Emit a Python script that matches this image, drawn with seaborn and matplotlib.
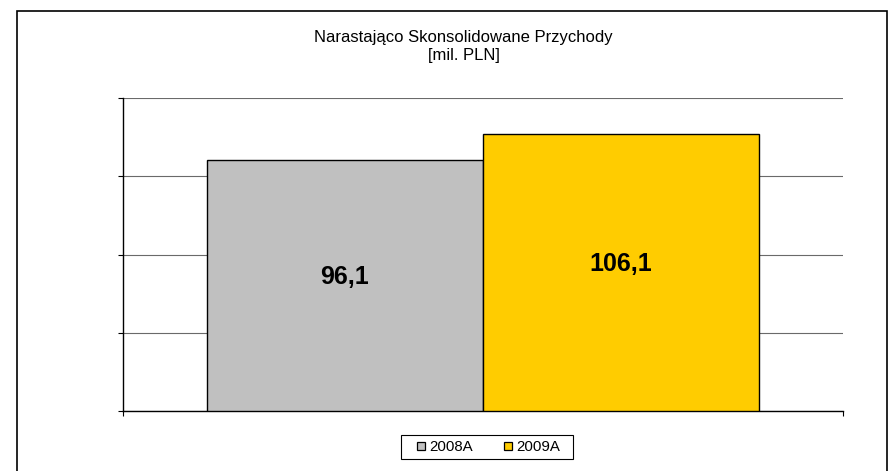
import pandas as pd
import seaborn as sns
import matplotlib.pyplot as plt
from matplotlib.lines import Line2D
from matplotlib.patches import Rectangle

# dane z wykresu
kategoria = 'Przychody'
lata = ['2008A', '2009A']
przychody = [96.1, 106.1]
kolory = ['#C0C0C0', '#FFCC00']
tytul = ['Narastająco Skonsolidowane Przychody', '[mil. PLN]']
y_ticki = [0, 30, 60, 90, 120]

sns.set_style('white')
plt.rcParams['font.family'] = ['Liberation Sans', 'DejaVu Sans']
plt.rcParams['text.color'] = 'black'

W, H = 889, 471
fig = plt.figure(figsize=(W / 100, H / 100), dpi=100)
ax = fig.add_axes([123 / W, 60 / H, 720 / W, 313 / H])

df = pd.DataFrame({'kategoria': [kategoria] * len(lata), 'rok': lata, 'przychody': przychody})
sns.barplot(data=df, x='kategoria', y='przychody', hue='rok', palette=kolory,
            saturation=1, width=0.767, edgecolor='black', linewidth=1,
            errorbar=None, legend=False, ax=ax, zorder=3)

ax.set_xlim(-0.5, 0.5)
ax.set_ylim(y_ticki[0], y_ticki[-1])
ax.set_yticks(y_ticki)
ax.set_xticks([-0.5, 0.5])
ax.set_xlabel('')
ax.set_ylabel('')
ax.tick_params(axis='both', direction='out', length=3.6, width=0.8, color='black',
               labelleft=False, labelbottom=False, left=True, bottom=True)
ax.yaxis.grid(True, color='#6a6a6a', linewidth=0.8)
ax.set_axisbelow(True)
for s in ['top', 'right']:
    ax.spines[s].set_visible(False)
for s in ['left', 'bottom']:
    ax.spines[s].set_color('black')
    ax.spines[s].set_linewidth(1)

# etykiety wartości
for cont, v in zip(ax.containers, przychody):
    bar = cont[0]
    ax.text(bar.get_x() + bar.get_width() / 2, v / 2 + 3.4,
            f'{v:.1f}'.replace('.', ','), ha='center', va='center',
            fontsize=18, fontweight='bold', color='black', zorder=4)

# tytuł
fig.text(463.5 / W, 1 - 42 / H, tytul[0], ha='center', va='baseline', fontsize=12, color='black')
fig.text(464 / W, 1 - 60 / H, tytul[1], ha='center', va='baseline', fontsize=12, color='black')

# legenda
uchwyty = [Line2D([], [], marker='s', linestyle='', color=k, markeredgecolor='black',
                  markersize=5.5, markeredgewidth=0.9) for k in kolory]
fig.legend(uchwyty, lata, loc='center', bbox_to_anchor=(488.5 / W, 1 - 447 / H), ncol=2,
           frameon=False, fontsize=10.8, handlelength=0.6, handletextpad=0.25,
           columnspacing=2.0, borderpad=0, labelcolor='black')
fig.patches.append(Rectangle((401 / W, 1 - 459 / H), 172 / W, 24 / H, transform=fig.transFigure,
                             fill=False, edgecolor='black', linewidth=0.8))

# ramka wykresu
fig.patches.append(Rectangle((17 / W, -0.05), (887 - 17) / W, 1.05 - 10.5 / H,
                             transform=fig.transFigure, fill=False, edgecolor='black',
                             linewidth=1.2))

fig.savefig('out.png', dpi=100)
